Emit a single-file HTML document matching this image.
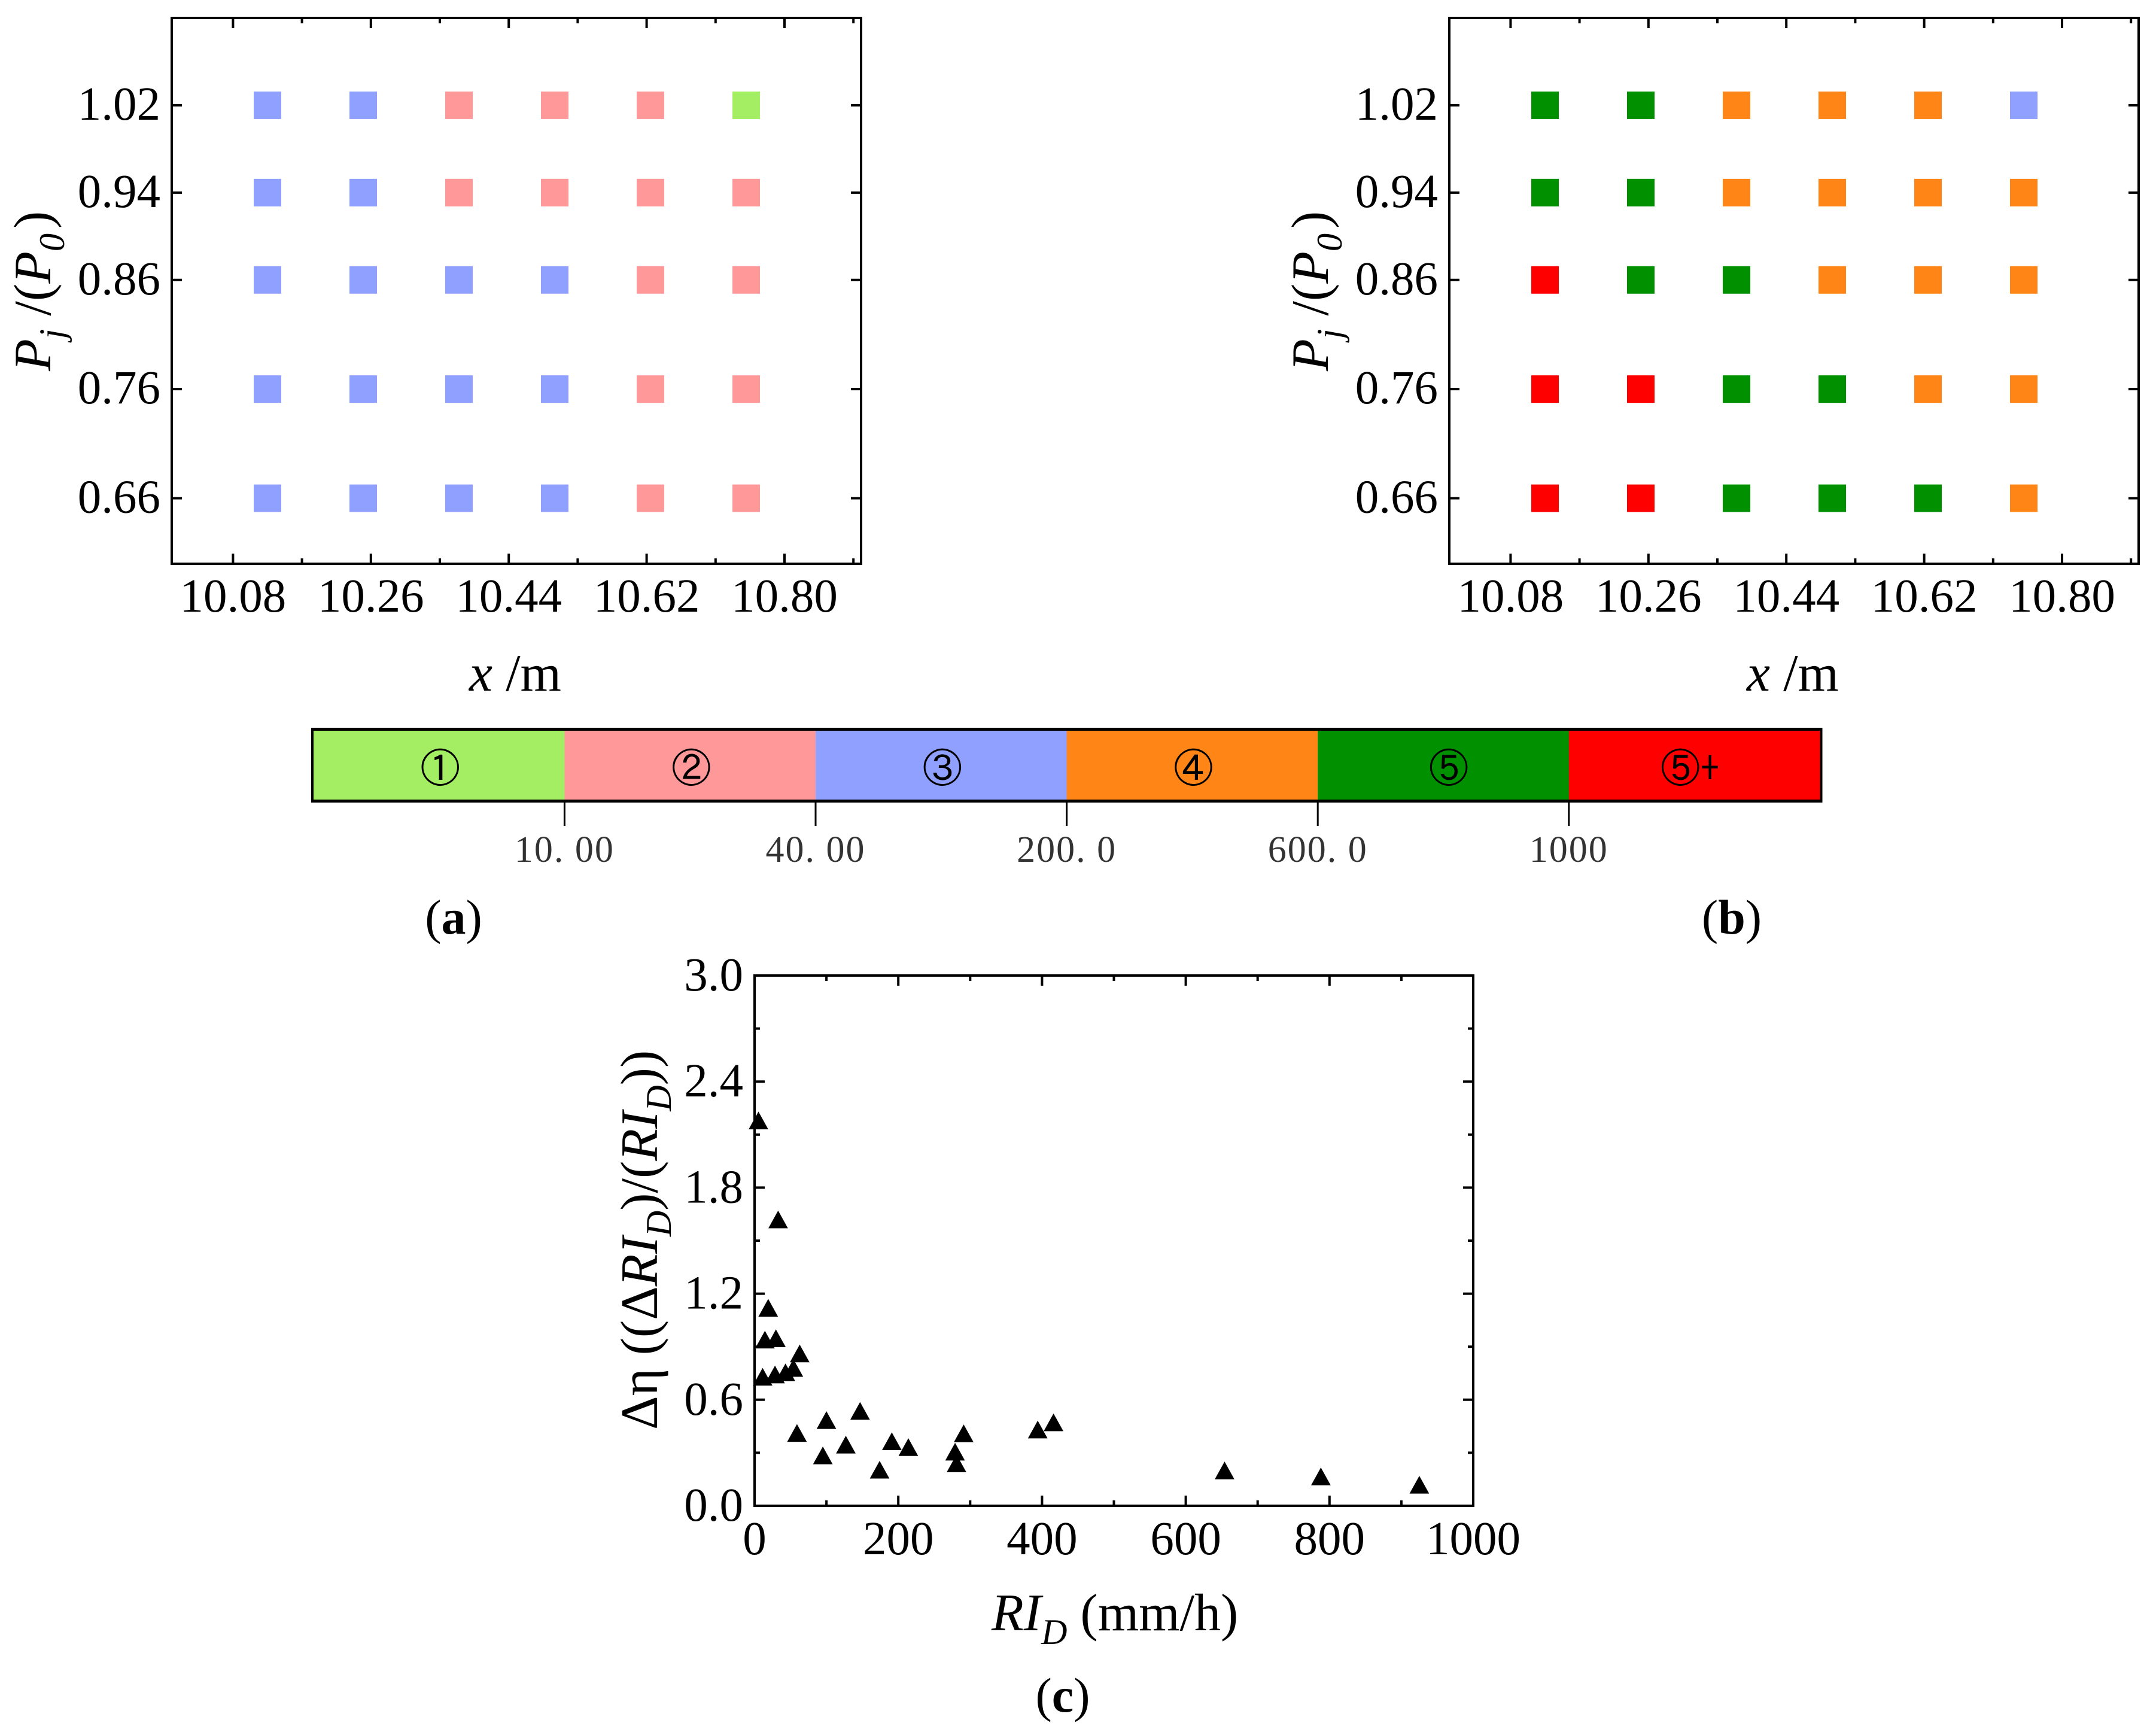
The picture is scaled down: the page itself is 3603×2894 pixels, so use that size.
<!DOCTYPE html>
<html lang="en">
<head>
<meta charset="utf-8">
<title>Rainfall intensity charts</title>
<style>
html,body{margin:0;padding:0;background:#fff;}
svg{display:block;}
text{font-family:"Liberation Serif","Noto Serif CJK SC",serif;fill:#000;}
</style>
</head>
<body>
<svg id="fig" xmlns="http://www.w3.org/2000/svg" width="3603" height="2894" viewBox="0 0 3603 2894">
<rect x="0" y="0" width="3603" height="2894" fill="#ffffff"/>

<text x="784" y="1154" font-size="88"><tspan font-style="italic">x</tspan> /m</text>
<text x="2919" y="1154" font-size="88"><tspan font-style="italic">x</tspan> /m</text>
<text transform="translate(84,620) rotate(-90)" font-size="88" font-style="italic">P<tspan font-size="60" dy="23">j</tspan><tspan dy="-23" font-style="normal"> /(</tspan>P<tspan font-size="60" dy="23">0</tspan><tspan dy="-23" dx="8" font-style="normal">)</tspan></text>
<text transform="translate(2219,620) rotate(-90)" font-size="88" font-style="italic">P<tspan font-size="60" dy="23">j</tspan><tspan dy="-23" font-style="normal"> /(</tspan>P<tspan font-size="60" dy="23">0</tspan><tspan dy="-23" dx="8" font-style="normal">)</tspan></text>

<text x="758" y="1560" font-size="82" text-anchor="middle">(<tspan font-weight="bold">a</tspan>)</text>
<text x="2894" y="1560" font-size="82" text-anchor="middle">(<tspan font-weight="bold">b</tspan>)</text>
<text x="1776" y="2860" font-size="82" text-anchor="middle">(<tspan font-weight="bold">c</tspan>)</text>

<text x="1657" y="2724" font-size="88"><tspan font-style="italic">RI</tspan><tspan font-style="italic" font-size="60" dy="23">D</tspan><tspan dy="-23"> (mm/h)</tspan></text>
<text transform="translate(1098,2389) rotate(-90)" font-size="88">Δη ((Δ<tspan font-style="italic">RI</tspan><tspan font-style="italic" font-size="60" dy="23">D</tspan><tspan dy="-23">)/(</tspan><tspan font-style="italic">RI</tspan><tspan font-style="italic" font-size="60" dy="23">D</tspan><tspan dy="-23">))</tspan></text>
</svg>

<script>
/* ---------- heat-grid data (panels a, b) ---------- */
var gridX = [10.125, 10.25, 10.375, 10.5, 10.625, 10.75];
var gridY = [1.02, 0.94, 0.86, 0.76, 0.66];
var gridXMajor = [10.08, 10.26, 10.44, 10.62, 10.80];
var gridXMinor = [10.17, 10.35, 10.53, 10.71, 10.89];
var gridXLabels = ["10.08", "10.26", "10.44", "10.62", "10.80"];
var gridYLabels = ["1.02", "0.94", "0.86", "0.76", "0.66"];
var classesA = [
  [3, 3, 2, 2, 2, 1],
  [3, 3, 2, 2, 2, 2],
  [3, 3, 3, 3, 2, 2],
  [3, 3, 3, 3, 2, 2],
  [3, 3, 3, 3, 2, 2]
];
var classesB = [
  [5, 5, 4, 4, 4, 3],
  [5, 5, 4, 4, 4, 4],
  [6, 5, 5, 4, 4, 4],
  [6, 6, 5, 5, 4, 4],
  [6, 6, 5, 5, 5, 4]
];

/* ---------- colour scale data ---------- */
var scaleNames = ["①", "②", "③", "④", "⑤", "⑤+"];
var scaleColors = ["#A3EE62", "#FF9999", "#8FA0FF", "#FF8616", "#009000", "#FF0000"];
var scaleTickLabels = ["10. 00", "40. 00", "200. 0", "600. 0", "1000"];

/* ---------- scatter data (panel c) ---------- */
var rainIntensity = [5.4, 32.8, 19, 14.4, 29.7, 62.8, 54, 43, 28.4, 11.2, 146.8, 100, 59, 291, 394, 416, 191, 214, 127, 95, 279, 281, 174, 654, 788, 925];
var deltaEta = [2.18, 1.62, 1.12, 0.94, 0.948, 0.862, 0.78, 0.755, 0.743, 0.73, 0.537, 0.485, 0.412, 0.41, 0.4315, 0.472, 0.365, 0.332, 0.346, 0.285, 0.306, 0.24, 0.204, 0.2, 0.166, 0.119];
var scatterXMajor = [0, 200, 400, 600, 800, 1000];
var scatterXMinor = [100, 300, 500, 700, 900];
var scatterYMajor = [0, 0.6, 1.2, 1.8, 2.4, 3.0];
var scatterYMinor = [0.3, 0.9, 1.5, 2.1, 2.7];
var scatterXLabels = ["0", "200", "400", "600", "800", "1000"];
var scatterYLabels = ["0.0", "0.6", "1.2", "1.8", "2.4", "3.0"];

var svg = document.getElementById('fig');
var NS = 'http://www.w3.org/2000/svg';

function make(tag, attrs) {
  var e = document.createElementNS(NS, tag);
  for (var k in attrs) { e.setAttribute(k, attrs[k]); }
  svg.appendChild(e);
  return e;
}
function linear(d0, d1, r0, r1) {
  return function (v) { return r0 + (v - d0) / (d1 - d0) * (r1 - r0); };
}
function tickLine(x1, y1, x2, y2) {
  var t = make('line', { x1: x1, y1: y1, x2: x2, y2: y2, stroke: '#000', 'stroke-width': 4 });
  
  
  return t;
}
function frameBox(l, t, r, b, label) {
  var f = make('rect', { x: l, y: t, width: r - l, height: b - t, fill: 'none', stroke: '#000', 'stroke-width': 4 });
  
  
}
function tickText(str, x, y, anchor) {
  var t = make('text', { x: x, y: y, 'font-size': 79, 'text-anchor': anchor });
  t.textContent = str;
  
  
}

/* ---------- heat-grid panels ---------- */
function drawGrid(left, classes) {
  var right = left + 1152, top = 30, bottom = 942;
  var sx = linear(10.0, 10.9, left, right);
  var sy = linear(0.6, 1.1, bottom, top);
  classes.forEach(function (row, r) {
    row.forEach(function (c, i) {
      var cx = sx(gridX[i]), cy = sy(gridY[r]);
      var s = make('rect', { x: cx - 23, y: cy - 23, width: 46, height: 46, fill: scaleColors[c - 1] });
      
      
    });
  });
  gridXMajor.forEach(function (v, i) {
    tickLine(sx(v), bottom, sx(v), bottom - 17);
    tickLine(sx(v), top, sx(v), top + 17);
    tickText(gridXLabels[i], sx(v), 1022, 'middle');
  });
  gridXMinor.forEach(function (v) {
    tickLine(sx(v), bottom, sx(v), bottom - 9);
    tickLine(sx(v), top, sx(v), top + 9);
  });
  gridY.forEach(function (v, i) {
    tickLine(left, sy(v), left + 17, sy(v));
    tickLine(right, sy(v), right - 17, sy(v));
    tickText(gridYLabels[i], left - 19, sy(v) + 24, 'end');
  });
  frameBox(left, top, right, bottom, 'grid-plot-frame');
}
drawGrid(287, classesA);
drawGrid(2422, classesB);

/* ---------- colour scale ---------- */
(function () {
  var barLeft = 523.8, segW = 419.6, barTop = 1218, barBottom = 1338;
  var sx = linear(0, scaleNames.length, barLeft, barLeft + segW * scaleNames.length);
  scaleColors.forEach(function (c, i) {
    var seg = make('rect', { x: sx(i), y: barTop, width: segW + 0.5, height: barBottom - barTop, fill: c });
    
    
    var lab = make('text', {
      x: sx(i + 0.5) + (i === 4 ? 9 : i === 5 ? -7 : 2),
      y: 1307,
      'font-size': 66,
      'text-anchor': 'middle',
      style: 'font-family:"IPAGothic","Noto Sans CJK SC","Liberation Sans",sans-serif'
    });
    lab.textContent = scaleNames[i];
    
    
  });
  var l1 = make('rect', { x: 520, y: 1216, width: 4, height: 125, fill: '#000' });
  
  
  var l2 = make('rect', { x: 3041.5, y: 1216, width: 4, height: 125, fill: '#000' });
  
  
  var l3 = make('rect', { x: 520, y: 1216, width: 2525.5, height: 5, fill: '#000' });
  
  
  var l4 = make('rect', { x: 520, y: 1336, width: 2525.5, height: 5, fill: '#000' });
  
  
  scaleTickLabels.forEach(function (s, i) {
    var x = sx(i + 1);
    var tk = make('line', { x1: x, y1: 1340, x2: x, y2: 1380, stroke: '#000', 'stroke-width': 3 });
    
    
    var t = make('text', { x: x, y: 1440, 'font-size': 62, 'letter-spacing': 2, 'text-anchor': 'middle', style: 'fill:#333' });
    t.textContent = s;
    
    
  });
})();

/* ---------- scatter panel ---------- */
(function () {
  var left = 1261, right = 2462, top = 1630, bottom = 2516;
  var sx = linear(0, 1000, left, right);
  var sy = linear(0, 3, bottom, top);
  scatterXMajor.forEach(function (v, i) {
    tickLine(sx(v), bottom, sx(v), bottom - 17);
    tickLine(sx(v), top, sx(v), top + 17);
    tickText(scatterXLabels[i], sx(v), 2597, 'middle');
  });
  scatterXMinor.forEach(function (v) {
    tickLine(sx(v), bottom, sx(v), bottom - 9);
    tickLine(sx(v), top, sx(v), top + 9);
  });
  scatterYMajor.forEach(function (v, i) {
    tickLine(left, sy(v), left + 17, sy(v));
    tickLine(right, sy(v), right - 17, sy(v));
    tickText(scatterYLabels[i], 1242, sy(v) + 25, 'end');
  });
  scatterYMinor.forEach(function (v) {
    tickLine(left, sy(v), left + 9, sy(v));
    tickLine(right, sy(v), right - 9, sy(v));
  });
  frameBox(left, top, right, bottom, 'scatter-plot-frame');
  rainIntensity.forEach(function (v, i) {
    var cx = sx(v), cy = sy(deltaEta[i]);
    var p = make('polygon', {
      points: cx + ',' + (cy - 14.8) + ' ' + (cx - 16.4) + ',' + (cy + 14.8) + ' ' + (cx + 16.4) + ',' + (cy + 14.8),
      fill: '#000'
    });
    
    
  });
})();
</script>
</body>
</html>
